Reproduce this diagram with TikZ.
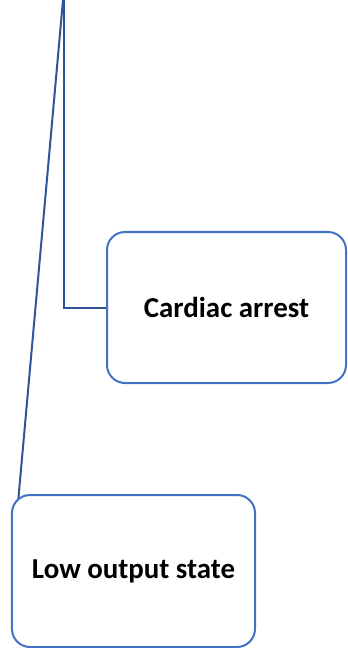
\documentclass[tikz,border=0pt]{standalone}
\usepackage{fontspec}
\setmainfont{Carlito}
\definecolor{conn}{HTML}{2F5597}
\definecolor{bord}{HTML}{4472C4}
\begin{document}
\begin{tikzpicture}[x=1bp,y=-1bp,
  box/.style={draw=bord, line width=2bp, fill=white, rounded corners=18bp, inner sep=0pt,
    font=\fontsize{29}{32}\selectfont\bfseries, text=black},
  link/.style={draw=conn, line width=2bp}]
\useasboundingbox (0,0) rectangle (347,648);
\coordinate (top) at (64,0);
\coordinate (topd) at (63,0);
\draw[link] (topd) -- (12,570);
\node[box, minimum width=243bp, minimum height=152bp] (low) at (133.5,571) {Low output state};
\node[box, minimum width=239bp, minimum height=151bp] (card) at (226.5,307.5) {Cardiac arrest};
\draw[link] (top) |- (card.west);
\end{tikzpicture}
\end{document}
